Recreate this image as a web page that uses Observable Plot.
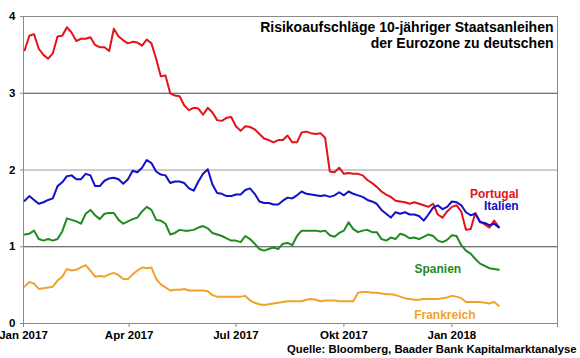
<!DOCTYPE html>
<html>
<head>
<meta charset="utf-8">
<script src="https://cdn.jsdelivr.net/npm/d3@7"></script>
<script src="https://cdn.jsdelivr.net/npm/@observablehq/plot@0.6"></script>
<style>
  html, body { margin: 0; padding: 0; background: #fff; }
  #chart svg { display: block; }
</style>
</head>
<body>
<div id="chart"></div>
<script>
// ---- Data ----
const seriesStart = "2017-01-02";   // first observation
const stepDays = 4;                 // sampling step of the readings

const portugal = [3.56,3.75,3.77,3.58,3.50,3.45,3.52,3.74,3.75,3.86,3.79,3.68,3.71,3.71,3.73,3.63,3.60,3.60,3.55,3.84,
  3.74,3.69,3.65,3.67,3.66,3.62,3.70,3.65,3.45,3.22,3.23,3.00,2.97,2.96,2.84,2.78,2.81,2.80,2.72,2.81,
  2.75,2.65,2.64,2.68,2.69,2.57,2.51,2.57,2.56,2.53,2.47,2.41,2.39,2.36,2.39,2.39,2.45,2.36,2.36,2.49,
  2.50,2.48,2.47,2.48,2.42,1.98,1.97,2.03,1.95,1.96,1.95,1.95,1.93,1.87,1.83,1.78,1.72,1.68,1.65,1.60,
  1.59,1.58,1.56,1.58,1.56,1.54,1.52,1.56,1.42,1.38,1.46,1.52,1.54,1.46,1.22,1.23,1.44,1.33,1.29,1.25,
  1.34,1.26];
const italien = [1.60,1.66,1.61,1.56,1.58,1.61,1.63,1.79,1.84,1.92,1.93,1.88,1.88,1.95,1.93,1.79,1.79,1.86,1.89,1.90,
  1.88,1.82,1.88,1.99,1.97,2.03,2.13,2.09,1.98,1.94,1.93,1.83,1.85,1.85,1.83,1.76,1.73,1.85,1.95,2.01,
  1.81,1.70,1.69,1.66,1.66,1.68,1.68,1.74,1.76,1.69,1.59,1.57,1.57,1.55,1.55,1.60,1.64,1.63,1.67,1.72,
  1.69,1.68,1.67,1.66,1.67,1.65,1.67,1.71,1.67,1.72,1.69,1.67,1.65,1.61,1.59,1.56,1.48,1.43,1.38,1.45,
  1.43,1.45,1.42,1.42,1.40,1.34,1.42,1.51,1.54,1.49,1.52,1.59,1.58,1.54,1.45,1.41,1.43,1.32,1.31,1.28,
  1.30,1.25];
const spanien = [1.16,1.17,1.21,1.10,1.08,1.10,1.08,1.10,1.20,1.37,1.35,1.33,1.30,1.43,1.48,1.41,1.36,1.43,1.44,1.44,
  1.35,1.30,1.33,1.36,1.38,1.46,1.52,1.48,1.35,1.34,1.30,1.16,1.18,1.22,1.21,1.21,1.22,1.25,1.27,1.24,
  1.18,1.16,1.14,1.11,1.08,1.08,1.06,1.14,1.10,1.04,0.97,0.95,0.97,0.99,0.97,1.04,1.05,1.02,1.14,1.21,
  1.21,1.21,1.21,1.20,1.21,1.15,1.13,1.18,1.21,1.32,1.23,1.19,1.21,1.22,1.19,1.19,1.10,1.08,1.12,1.10,
  1.17,1.15,1.11,1.12,1.10,1.13,1.16,1.14,1.08,1.06,1.09,1.15,1.14,1.02,0.95,0.91,0.84,0.78,0.75,0.72,
  0.71,0.70];
const frankreich = [0.48,0.54,0.52,0.45,0.46,0.47,0.48,0.56,0.61,0.71,0.69,0.70,0.73,0.76,0.69,0.61,0.62,0.61,0.64,0.66,
  0.63,0.58,0.58,0.64,0.69,0.73,0.72,0.73,0.58,0.51,0.47,0.43,0.44,0.44,0.45,0.43,0.43,0.43,0.43,0.42,
  0.37,0.35,0.35,0.35,0.35,0.35,0.35,0.36,0.30,0.27,0.25,0.24,0.25,0.26,0.27,0.28,0.29,0.29,0.29,0.29,
  0.31,0.32,0.31,0.29,0.30,0.30,0.30,0.29,0.29,0.29,0.29,0.40,0.41,0.41,0.40,0.40,0.39,0.38,0.38,0.37,
  0.35,0.33,0.32,0.31,0.31,0.32,0.32,0.32,0.32,0.33,0.34,0.36,0.35,0.33,0.28,0.28,0.28,0.28,0.27,0.26,
  0.28,0.23];

const seriesNames = ["Portugal", "Italien", "Spanien", "Frankreich"];
const seriesColors = ["#e3121b", "#1010c8", "#1f8a1f", "#f2a22a"];
const xDomain = ["2017-01-01", "2018-04-01"];
const xTickDates = ["2017-01-01", "2017-04-01", "2017-07-01", "2017-10-01", "2018-01-01", "2018-04-01"];
const xTickLabels = ["Jan 2017", "Apr 2017", "Jul 2017", "Okt 2017", "Jan 2018", ""];
const yTicks = [0, 1, 2, 3, 4];
const yTickLabels = ["0", "1", "2", "3", "4"];
const titleText = "Risikoaufschläge 10-jähriger Staatsanleihen\nder Eurozone zu deutschen";
const sourceText = "Quelle: Bloomberg, Baader Bank Kapitalmarktanalyse";

// ---- Build table ----
const start = new Date(seriesStart + "T00:00:00Z");
const valuesBySeries = [portugal, italien, spanien, frankreich];
const tables = valuesBySeries.map((vals, s) =>
  vals.map((v, i) => ({date: d3.utcDay.offset(start, stepDays * i), value: v, series: seriesNames[s]}))
);
const tickDates = xTickDates.map(d => new Date(d + "T00:00:00Z"));
const labelOf = new Map(tickDates.map((d, i) => [+d, xTickLabels[i]]));
const yLabelOf = new Map(yTicks.map((v, i) => [v, yTickLabels[i]]));

const font = "'Liberation Sans', Arial, sans-serif";
const labelOffsets = [[-4.5, -33], [2.5, -21], [-61, -1], [-54, 9]];

const chart = Plot.plot({
  width: 580,
  height: 358,
  marginLeft: 23,
  marginRight: 23,
  marginTop: 16,
  marginBottom: 35,
  style: {fontFamily: font, fontSize: "11px", fontWeight: "bold", color: "#000", background: "#fff"},
  x: {type: "utc", domain: xDomain.map(d => new Date(d + "T00:00:00Z"))},
  y: {domain: [0, 4]},
  marks: [
    Plot.ruleY([1, 3], {stroke: "#444", strokeWidth: 1}),
    Plot.ruleY([2], {stroke: "#9a9a9a", strokeWidth: 1}),
    Plot.frame({stroke: "#8a8a8a", strokeWidth: 1}),
    Plot.axisY({ticks: yTicks, tickFormat: v => yLabelOf.get(v), tickSize: 3, tickPadding: 5, label: null,
      stroke: "#8a8a8a", fontSize: 11.5, fontWeight: "bold", fill: "#000"}),
    Plot.axisX({ticks: tickDates, tickSize: 4, tickPadding: 3, label: null, stroke: "#8a8a8a",
      tickFormat: d => labelOf.get(+d), fontSize: 11.5, fontWeight: "bold", fill: "#000"}),
    ...tables.map((t, s) => Plot.line(t, {x: "date", y: "value", stroke: seriesColors[s], strokeWidth: 2})),
    ...tables.map((t, s) => Plot.text(t, Plot.selectLast({
      x: "date", y: "value", text: "series", fill: seriesColors[s],
      dx: labelOffsets[s][0], dy: labelOffsets[s][1], fontSize: 12, fontWeight: "bold"
    }))),
    Plot.text([titleText], {frameAnchor: "top-right", dx: -4, dy: 4, textAnchor: "end", lineAnchor: "top",
      lineHeight: 1.15, fontSize: 14, fontWeight: "bold", fill: "#000"}),
    Plot.text([sourceText], {frameAnchor: "bottom-right", dx: 19, dy: 26, textAnchor: "end", lineAnchor: "middle",
      fontSize: 11.3, fontWeight: "bold", fill: "#000"})
  ]
});
document.getElementById("chart").appendChild(chart);
</script>
</body>
</html>
